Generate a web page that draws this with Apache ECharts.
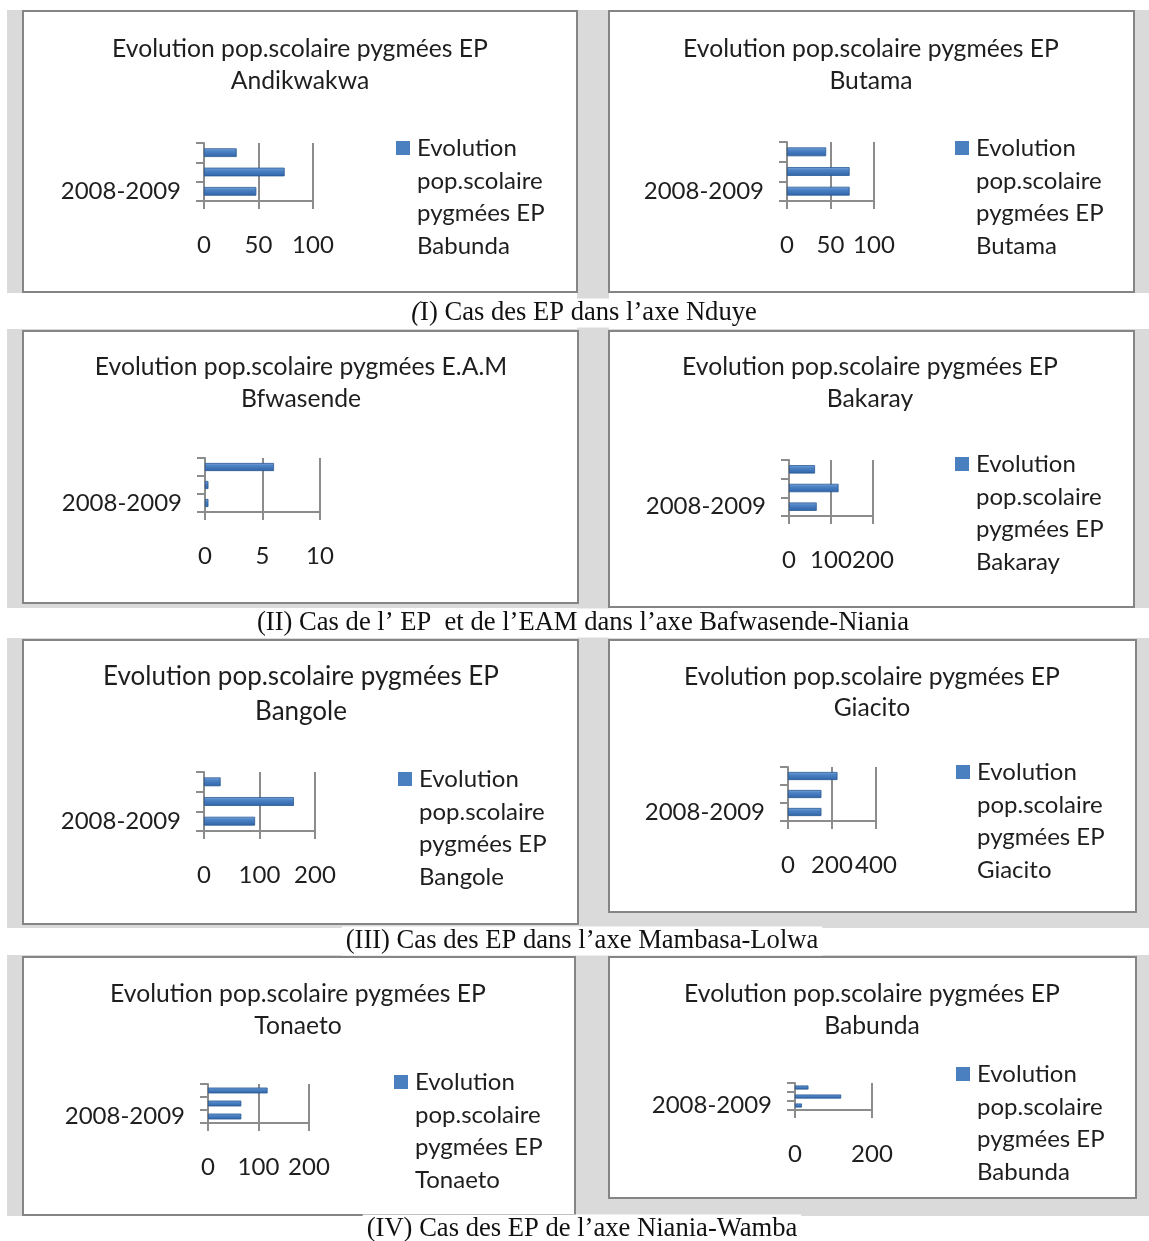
<!DOCTYPE html>
<html><head><meta charset="utf-8">
<script src="https://cdn.jsdelivr.net/npm/echarts@6/dist/echarts.min.js"></script>
<style>html,body{margin:0;padding:0;background:#fff}#c{width:1149px;height:1241px}</style>
</head><body><div id="c"></div>
<script>
// ---------- data ----------
const categories = ['2008-2009', '2009-2010', '2010-2011'];
const andikwakwa = [48, 74, 30];
const butama = [72, 72, 45];
const bfwasende = [0.3, 0.3, 6];
const bakaray = [66, 118, 62];
const bangole = [92, 162, 30];
const giacito = [152, 152, 225];
const tonaeto = [66, 66, 118];
const babunda = [18, 120, 35];

const panelTitles = [
  'Evolution pop.scolaire pygmées EP\nAndikwakwa',
  'Evolution pop.scolaire pygmées EP\nButama',
  'Evolution pop.scolaire pygmées E.A.M\nBfwasende',
  'Evolution pop.scolaire pygmées EP\nBakaray',
  'Evolution pop.scolaire pygmées EP\nBangole',
  'Evolution pop.scolaire pygmées EP\nGiacito',
  'Evolution pop.scolaire pygmées EP\nTonaeto',
  'Evolution pop.scolaire pygmées EP\nBabunda'
];
const seriesNames = [
  'Evolution pop.scolaire pygmées EP Babunda',
  'Evolution pop.scolaire pygmées EP Butama',
  'Evolution pop.scolaire pygmées E.A.M Bfwasende',
  'Evolution pop.scolaire pygmées EP Bakaray',
  'Evolution pop.scolaire pygmées EP Bangole',
  'Evolution pop.scolaire pygmées EP Giacito',
  'Evolution pop.scolaire pygmées EP Tonaeto',
  'Evolution pop.scolaire pygmées EP Babunda'
];
const captions = [
  'I) Cas des EP dans l’axe Nduye',
  '(II) Cas de l’ EP  et de l’EAM dans l’axe Bafwasende-Niania',
  '(III) Cas des EP dans l’axe Mambasa-Lolwa',
  '(IV) Cas des EP de l’axe Niania-Wamba'
];
const seriesData = [andikwakwa, butama, bfwasende, bakaray, bangole, giacito, tonaeto, babunda];
const axisMax = [100, 100, 10, 200, 200, 400, 200, 200];
const axisInterval = [50, 50, 5, 100, 100, 200, 100, 200];

// ---------- layout ----------
const FONT = 'Lato';
const TXT = '#1e1e1e';
const LINE = '#8c8c8c';
const layout = [
  {tx: 300, ty: 33, ts: 24.7, tl: 32, lg: [396, 148], g: [204, 143, 109, 58]},
  {tx: 871, ty: 33, ts: 24.7, tl: 32, lg: [955, 148], g: [787, 142, 87, 59]},
  {tx: 301, ty: 351, ts: 24.7, tl: 32, lg: null, g: [205, 458, 115, 54]},
  {tx: 870, ty: 351, ts: 24.7, tl: 32, lg: [955, 464], g: [789, 460, 84, 56]},
  {tx: 301, ty: 659.5, ts: 26, tl: 35, lg: [398, 779], g: [204, 772, 111, 59]},
  {tx: 872, ty: 661.5, ts: 24.7, tl: 31, lg: [956, 772], g: [788, 767, 88, 54]},
  {tx: 298, ty: 978, ts: 24.7, tl: 32, lg: [394, 1082], g: [208, 1084, 101, 39]},
  {tx: 872, ty: 978, ts: 24.7, tl: 32, lg: [956, 1074], g: [795, 1083, 77, 27]}
];
const boxes = [
  [23, 11, 554, 281], [609, 11, 525, 281],
  [23, 331, 555, 272], [609, 331, 525, 276],
  [23, 640, 555, 284], [609, 640, 527, 272],
  [23, 957, 552, 258], [609, 957, 527, 241]
];
const bands = [[10, 283], [329, 279], [638, 290], [955, 261]];
const captionPos = [[584, 313], [583, 623], [582, 941], [582, 1229]];

const LH = 32.7, LBH = 131;
const legendIcon = 'path://M0,' + (LH/2 - 7) + 'L14,' + (LH/2 - 7) + 'L14,' + (LH/2 + 7) + 'L0,' + (LH/2 + 7) +
  'Z M0,0L0.01,0L0.01,0.01Z M15.99,' + (LBH - 0.01) + 'L16,' + (LBH - 0.01) + 'L16,' + LBH + 'Z';

const wrapName = n => n.replace('Evolution ', 'Evolution\n').replace('scolaire ', 'scolaire\n').replace(' EP ', ' EP\n');

const barColor = {
  type: 'linear', x: 0, y: 0, x2: 0, y2: 1,
  colorStops: [{offset: 0, color: '#7ea9dd'}, {offset: 0.3, color: '#4f85c6'}, {offset: 1, color: '#2e64a8'}]
};

const option = {
  animation: false,
  backgroundColor: '#ffffff',
  title: [], legend: [], grid: [], xAxis: [], yAxis: [], series: [],
  graphic: {elements: []}
};

// backgrounds
bands.forEach(b => option.graphic.elements.push({
  type: 'rect', z: -20, shape: {x: 7, y: b[0], width: 1142, height: b[1]}, style: {fill: '#dadada'}
}));
option.graphic.elements.push({type: 'rect', z: -20, shape: {x: 577, y: 10, width: 32, height: 1231}, style: {fill: '#dadada'}});
boxes.forEach(b => option.graphic.elements.push({
  type: 'rect', z: -10, shape: {x: b[0], y: b[1], width: b[2], height: b[3]},
  style: {fill: '#ffffff', stroke: '#858585', lineWidth: 2}
}));
captions.forEach((c, i) => option.graphic.elements.push({
  type: 'text', z: 50, x: captionPos[i][0], y: captionPos[i][1],
  style: {
    text: (i === 0 ? '{it|(}' : '') + c,
    rich: {it: {fontStyle: 'italic', fontFamily: 'Liberation Serif', fontSize: 26.6, fill: '#111'}},
    fontFamily: 'Liberation Serif', fontSize: 26.6, fill: '#111',
    align: 'center', verticalAlign: 'middle', backgroundColor: '#ffffff', padding: [1, 4]
  }
}));

layout.forEach((p, i) => {
  option.title.push({
    text: panelTitles[i], left: p.tx, top: p.ty, textAlign: 'center', padding: 0,
    textStyle: {fontFamily: FONT, fontSize: p.ts, lineHeight: p.tl, fontWeight: 'normal', color: TXT}
  });
  if (p.lg) {
    option.legend.push({
      left: p.lg[0], top: p.lg[1] - LH / 2, orient: 'vertical', padding: 0, itemGap: 0,
      itemWidth: 16, itemHeight: LBH, selectedMode: false, symbolKeepAspect: false,
      data: [{name: seriesNames[i], icon: legendIcon}],
      formatter: wrapName,
      itemStyle: {color: '#4a7fc0', borderWidth: 0},
      textStyle: {fontFamily: FONT, fontSize: 24, lineHeight: LH, color: TXT}
    });
  }
  option.grid.push({left: p.g[0], top: p.g[1], width: p.g[2], height: p.g[3], containLabel: false, outerBoundsMode: 'none'});
  option.xAxis.push({
    type: 'value', gridIndex: i, min: 0, max: axisMax[i], interval: axisInterval[i],
    showMinLabel: true, showMaxLabel: true,
    axisLine: {show: true, lineStyle: {color: LINE, width: 2}},
    axisTick: {show: true, length: 8, lineStyle: {color: LINE, width: 2}},
    splitLine: {show: true, lineStyle: {color: LINE, width: 2}},
    axisLabel: {margin: 32, fontFamily: FONT, fontSize: 24, color: TXT, hideOverlap: false}
  });
  option.yAxis.push({
    type: 'category', gridIndex: i, data: categories, boundaryGap: true,
    axisLine: {show: true, lineStyle: {color: LINE, width: 2}},
    axisTick: {show: true, length: 8, interval: 0, alignWithLabel: false, lineStyle: {color: LINE, width: 2}},
    splitLine: {show: false},
    axisLabel: {interval: 2, margin: 23, padding: [6, 0, 0, 0], fontFamily: FONT, fontSize: 24, color: TXT}
  });
  option.series.push({
    type: 'bar', name: seriesNames[i], xAxisIndex: i, yAxisIndex: i,
    data: seriesData[i], barWidth: '45%',
    itemStyle: {color: barColor, borderColor: '#2a5993', borderWidth: 0.8}
  });
});

const chart = echarts.init(document.getElementById('c'), null, {renderer: 'canvas'});
chart.setOption(option);
</script>
</body></html>
